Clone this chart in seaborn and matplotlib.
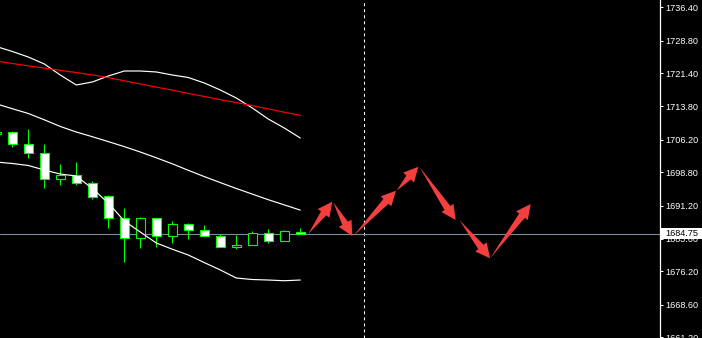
import matplotlib
matplotlib.use("Agg")
import matplotlib.pyplot as plt
import matplotlib.transforms as mtransforms
from matplotlib.patches import Rectangle
import numpy as np
import pandas as pd
import seaborn as sns

# ---------------- data ----------------
bars = list(range(20))
opens  = [1707.45, 1707.91, 1705.18, 1703.13, 1697.34, 1698.11, 1696.29, 1693.33, 1688.31, 1683.76,
          1688.31, 1684.21, 1686.95, 1685.58, 1684.21, 1681.71, 1682.16, 1684.90, 1683.07, 1685.12]
highs  = [1708.30, 1708.21, 1708.67, 1705.25, 1700.69, 1701.14, 1696.81, 1693.62, 1690.66, 1688.61,
          1688.31, 1687.70, 1687.24, 1686.79, 1684.67, 1684.58, 1685.35, 1685.88, 1685.65, 1686.10]
lows   = [1707.20, 1704.63, 1702.12, 1695.29, 1695.97, 1695.97, 1692.71, 1686.17, 1678.42, 1681.61,
          1681.84, 1682.75, 1683.67, 1684.21, 1681.71, 1681.39, 1682.16, 1682.75, 1683.07, 1684.67]
closes = [1707.98, 1705.18, 1703.13, 1697.34, 1698.11, 1696.29, 1693.24, 1688.31, 1683.76, 1688.31,
          1684.21, 1686.95, 1685.58, 1684.21, 1681.71, 1682.16, 1684.90, 1683.07, 1685.35, 1684.75]

bb_upper  = [1727.47, 1726.33, 1725.07, 1723.48, 1720.97, 1718.69, 1719.38, 1720.74, 1721.88, 1721.88,
             1721.66, 1720.97, 1720.40, 1719.15, 1717.55, 1715.73, 1713.45, 1710.94, 1708.89, 1706.61]
bb_middle = [1714.39, 1713.29, 1712.20, 1710.76, 1709.24, 1707.98, 1706.91, 1705.79, 1704.65, 1703.42,
             1702.10, 1700.73, 1699.25, 1697.82, 1696.45, 1695.11, 1693.83, 1692.55, 1691.37, 1690.18]
bb_lower  = [1701.14, 1700.80, 1700.35, 1699.32, 1698.41, 1697.95, 1695.11, 1691.80, 1687.70, 1685.19,
             1682.69, 1681.27, 1679.95, 1678.22, 1676.55, 1674.71, 1674.37, 1674.25, 1674.09, 1674.25]
ma_red    = [1724.12, 1723.59, 1723.07, 1722.54, 1722.02, 1721.52, 1720.99, 1720.38, 1719.65, 1718.94,
             1718.21, 1717.51, 1716.78, 1716.07, 1715.34, 1714.68, 1714.00, 1713.25, 1712.49, 1711.79]

current_price = 1684.75
separator_bar = 23

arrow_x0 = [19.50, 21.06, 22.31, 25.02, 26.44, 28.94, 30.86]
arrow_y0 = [1684.75, 1691.96, 1684.28, 1694.60, 1700.07, 1687.93, 1679.20]
arrow_x1 = [21.00, 22.25, 24.98, 26.38, 28.71, 30.86, 33.40]
arrow_y1 = [1692.10, 1684.28, 1694.60, 1700.07, 1687.93, 1679.20, 1691.57]

tick_values = [1736.40, 1728.80, 1721.40, 1713.80, 1706.20, 1698.80, 1691.20,
               1683.60, 1676.20, 1668.60, 1661.20]
tick_labels = ["1736.40", "1728.80", "1721.40", "1713.80", "1706.20", "1698.80", "1691.20",
               "1683.60", "1676.20", "1668.60", "1661.20"]

# ---------------- style ----------------
sns.set_style("dark")
plt.rcParams['font.family'] = ['Liberation Sans', 'DejaVu Sans']

GREEN = '#00FF00'
ARROW = '#F43F3F'

fig = plt.figure(figsize=(7.02, 3.38), dpi=100, facecolor='black')
ax = fig.add_axes([0, 0, 659.5 / 702, 1])
ax.set_facecolor('black')
ax.grid(False)

ax.set_xlim(0.231, 41.45)
ax.set_ylim(1661.04, 1738.06)

# separator and current price line
ax.axvline(separator_bar, color='white', lw=0.75, ls=(0, (2.9, 2.9)), zorder=1)
ax.axhline(current_price, color='#7F8B9C', lw=0.8, zorder=1.5)

# candles
o = np.array(opens); c = np.array(closes)
body_bottom = np.minimum(o, c)
body_height = np.abs(c - o)
fills = ['white' if cc < oo else 'black' for oo, cc in zip(opens, closes)]
ax.vlines(bars, lows, highs, color=GREEN, lw=0.8, zorder=2)
ax.bar(bars, body_height, bottom=body_bottom, width=0.56, color=fills,
       edgecolor=GREEN, linewidth=0.8, zorder=3)

# indicator lines via seaborn
df = pd.DataFrame({
    'bar': bars * 4,
    'price': bb_upper + bb_middle + bb_lower + ma_red,
    'series': ['upper'] * 20 + ['middle'] * 20 + ['lower'] * 20 + ['ma'] * 20,
})
sns.lineplot(data=df, x='bar', y='price', hue='series',
             palette={'upper': 'white', 'middle': 'white', 'lower': 'white', 'ma': '#FF0000'},
             estimator=None, sort=False, legend=False, lw=0.85, ax=ax, zorder=4)

# arrows
for xs, ys, xe, ye in zip(arrow_x0, arrow_y0, arrow_x1, arrow_y1):
    ax.annotate("", xy=(xs, ys), xytext=(xe, ye),
                arrowprops=dict(arrowstyle="wedge,tail_width=5.6,shrink_factor=0.5",
                                mutation_scale=1, fc=ARROW, ec='none', lw=0,
                                shrinkA=7, shrinkB=0), zorder=6)
    ax.annotate("", xy=(xe, ye), xytext=(xs, ys),
                arrowprops=dict(arrowstyle="simple,head_length=10.5,head_width=10.5,tail_width=0.01",
                                mutation_scale=1, fc=ARROW, ec='none', lw=0,
                                shrinkA=0, shrinkB=0), zorder=6)

# axis styling
ax.set_xlabel(''); ax.set_ylabel('')
ax.set_xticks([])
ax.yaxis.tick_right()
ax.set_yticks(tick_values)
ax.set_yticklabels(tick_labels)
ax.tick_params(axis='y', colors='white', length=2, width=0.75, pad=2.5,
               labelsize=6.6, direction='out', right=True, left=False)
for s in ['left', 'top', 'bottom']:
    ax.spines[s].set_visible(False)
ax.spines['right'].set_color('white')
ax.spines['right'].set_linewidth(0.9)

# current price label box
trans = mtransforms.blended_transform_factory(ax.transAxes, ax.transData)
ax.add_patch(Rectangle((1.0018, current_price - 1.2), 0.07, 2.45, transform=trans,
                       facecolor='white', edgecolor='none', clip_on=False, zorder=10))
ax.annotate(f"{current_price:.2f}", xy=(1, current_price), xycoords=trans,
            xytext=(4.2, 0), textcoords='offset points', ha='left', va='center',
            fontsize=6.6, color='black', annotation_clip=False, zorder=11)

fig.savefig('out.png', dpi=100, facecolor='black')
